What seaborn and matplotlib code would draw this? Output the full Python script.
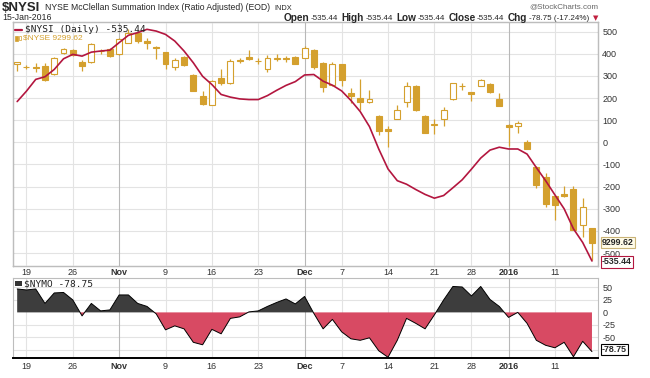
import numpy as np
import pandas as pd
import seaborn as sns
import matplotlib.pyplot as plt
from matplotlib.lines import Line2D
from matplotlib.patches import Rectangle

# trading days shown (Oct 16 2015 .. Jan 15 2016)
holidays = ['2015-11-26', '2015-12-25', '2016-01-01']
dates = pd.bdate_range('2015-10-16', '2016-01-15')
dates = dates[~dates.isin(pd.to_datetime(holidays))]

# $NYSE candles (overlay)
nyse_open = [10397, 10383, 10378, 10386, 10335, 10469, 10483, 10411, 10411, 10481,
             10489, 10458, 10531, 10588, 10541, 10504, 10473, 10383, 10442, 10331,
             10205, 10148, 10315, 10280, 10423, 10444, 10419, 10366, 10432, 10434,
             10442, 10434, 10485, 10407, 10273, 10397, 10218, 10191, 10164, 10082,
             10002, 10062, 10164, 10267, 10082, 10026, 10062, 10181, 10261, 10226,
             10267, 10278, 10185, 10026, 10016, 9917, 9763, 9704, 9584, 9600,
             9630, 9409, 9389]
nyse_high = [10411, 10391, 10407, 10403, 10444, 10500, 10489, 10423, 10526, 10494,
             10496, 10562, 10613, 10596, 10562, 10510, 10475, 10438, 10448, 10335,
             10232, 10300, 10366, 10428, 10438, 10485, 10438, 10452, 10458, 10448,
             10448, 10510, 10489, 10411, 10411, 10399, 10253, 10309, 10242, 10084,
             10020, 10150, 10287, 10269, 10084, 10062, 10136, 10284, 10280, 10228,
             10310, 10284, 10222, 10028, 10047, 9934, 9769, 9728, 9588, 9646,
             9650, 9574, 9391]
nyse_low = [10355, 10366, 10349, 10294, 10329, 10458, 10448, 10355, 10403, 10458,
            10444, 10456, 10526, 10531, 10489, 10432, 10370, 10362, 10386, 10232,
            10150, 10144, 10273, 10275, 10407, 10425, 10397, 10352, 10417, 10411,
            10397, 10434, 10366, 10226, 10267, 10263, 10160, 10119, 10160, 9965,
            9886, 10060, 10136, 10113, 9973, 9971, 10020, 10176, 10242, 10170,
            10265, 10222, 10142, 9892, 9975, 9874, 9636, 9522, 9440, 9582,
            9376, 9337, 9193]
nyse_close = [10411, 10378, 10375, 10300, 10438, 10494, 10452, 10386, 10520, 10477,
              10448, 10555, 10592, 10541, 10526, 10496, 10397, 10423, 10391, 10236,
              10156, 10294, 10280, 10417, 10420, 10428, 10415, 10438, 10436, 10432,
              10401, 10500, 10380, 10257, 10397, 10300, 10201, 10164, 10185, 9985,
              9989, 10119, 10267, 10115, 9975, 10030, 10119, 10280, 10265, 10216,
              10300, 10226, 10143.42, 10012, 10037, 9876, 9656, 9539, 9533, 9584,
              9378, 9522, 9299.62]

# $NYSI summation index
nysi = [184, 231, 284, 296, 329, 377, 397, 389, 407, 412,
        416, 450, 483, 495, 510, 502, 487, 457, 412, 359,
        298, 261, 216, 204, 196, 193, 193, 211, 235, 257,
        274, 304, 306, 276, 258, 232, 189, 139, 71, -30,
        -120, -173, -189, -213, -235, -252, -240, -205, -169, -121,
        -71, -35, -22, -30, -30, -53, -114, -173, -237, -300,
        -390, -452, -535.44]

# $NYMO oscillator
nymo = [47, 45, 47, 18, 39, 40, 25, -7, 18, 3,
        5, 35, 35, 18, 12, -3, -35, -27, -33, -60,
        -65, -34, -43, -12, -9, 1, 3, 12, 20, 27,
        17, 32, -2, -33, -14, -39, -53, -56, -51, -77,
        -90, -56, -12, -22, -33, -5, 25, 52, 51, 33,
        52, 26, 12, -10, 0, -22, -56, -66, -71, -60,
        -89, -58, -78.75]

tick_dates = ['2015-10-19', '2015-10-26', '2015-11-02', '2015-11-09', '2015-11-16',
              '2015-11-23', '2015-12-01', '2015-12-07', '2015-12-14', '2015-12-21',
              '2015-12-28', '2016-01-04', '2016-01-11']
tick_labels = ['19', '26', 'Nov', '9', '16', '23', 'Dec', '7', '14', '21', '28', '2016', '11']
month_labels = ['Nov', 'Dec', '2016']

W, H = 650, 378
GOLD = '#d4a02e'
RED = '#b3163f'
NEG = '#d84a63'
POS = '#3d3d3d'
GRID = '#e3e3e3'
MGRID = '#b8b8b8'

sns.set_style('white')
plt.rcParams['font.family'] = ['Liberation Sans', 'DejaVu Sans']
plt.rcParams['axes.unicode_minus'] = False

df = pd.DataFrame({'date': dates, 'open': nyse_open, 'high': nyse_high,
                   'low': nyse_low, 'close': nyse_close,
                   'nysi': nysi, 'nymo': nymo})
df['x'] = np.arange(len(df)) - 1
tick_x = [df.loc[df['date'] == pd.Timestamp(d), 'x'].iloc[0] for d in tick_dates]


def fx(px):
    return px / W


def fy(py):
    return 1 - py / H


fig = plt.figure(figsize=(W / 100, H / 100), dpi=100)
ax2 = fig.add_axes([fx(13), fy(266), fx(585), 244 / H])   # candles, hidden scale
ax = ax2.twinx()                                          # NYSI scale on the right
axl = fig.add_axes([fx(13), fy(358), fx(585), 80 / H])

xlim = (-1.45, 61.65)


def style_x(a, pad):
    a.set_xlim(*xlim)
    a.set_xticks(tick_x)
    a.set_xticklabels(tick_labels, fontsize=6.5, color='#333333')
    for t in a.get_xticklabels():
        if t.get_text() in month_labels:
            t.set_fontweight('bold')
    a.tick_params(axis='x', length=0, pad=pad)
    for xv, lab in zip(tick_x, tick_labels):
        a.axvline(xv, color=MGRID if lab in month_labels else GRID, lw=0.8, zorder=0)
    for s in a.spines.values():
        s.set_color('#bdbdbd')
        s.set_linewidth(0.8)


# ---- main panel grid + ticks
style_x(ax2, 1.5)
ax2.set_ylim(9156, 10658)
ax2.set_yticks([])
ax.set_ylim(-558, 543)
ax.set_yticks(np.arange(-500, 501, 100))
ax.tick_params(axis='y', length=0, pad=3, labelsize=6.5, labelcolor='#333333')
for v in np.arange(-500, 501, 100):
    ax.axhline(v, color=GRID, lw=0.8, zorder=0)
ax.set_zorder(ax2.get_zorder() - 1)
ax2.patch.set_visible(False)

# candles
for xv, o, h, l, c in zip(df['x'], df['open'], df['high'], df['low'], df['close']):
    up = c >= o
    ax2.vlines(xv, l, h, color=GOLD, lw=0.9, zorder=2)
    bottom, height = min(o, c), max(abs(c - o), 1.5)
    ax2.add_patch(Rectangle((xv - 0.32, bottom), 0.64, height,
                            facecolor='white' if up else GOLD,
                            edgecolor=GOLD, lw=0.8, zorder=3))

# NYSI line drawn above the candles, on the NYSI scale
ax_line = fig.add_axes(ax2.get_position(), sharex=ax2)
ax_line.set_ylim(-558, 543)
ax_line.axis('off')
sns.lineplot(data=df, x='x', y='nysi', ax=ax_line, color=RED, lw=1.2, legend=False)
ax_line.set_xlim(*xlim)
ax_line.set_ylim(-558, 543)

# ---- lower panel: NYMO area
xs = df['x'].to_numpy()
ys = df['nymo'].to_numpy(dtype=float)
axl.fill_between(xs, 0, ys, where=ys >= 0, interpolate=True, color=POS, lw=0, zorder=2)
axl.fill_between(xs, 0, ys, where=ys <= 0, interpolate=True, color=NEG, lw=0, zorder=2)
sns.lineplot(data=df, x='x', y='nymo', ax=axl, color='black', lw=0.7, zorder=3,
             legend=False)
axl.set_ylim(-91.5, 69)
axl.set_yticks([50, 25, 0, -25, -50])
axl.yaxis.tick_right()
axl.tick_params(axis='y', length=0, pad=3, labelsize=6.5, labelcolor='#333333')
for v in [50, 25, -25, -50, -75]:
    axl.axhline(v, color=GRID, lw=0.8, zorder=0)
style_x(axl, 3)
axl.spines['bottom'].set_color('black')
axl.spines['bottom'].set_linewidth(1.4)
for a in (ax, ax2, axl):
    a.set_xlabel('')
    a.set_ylabel('')

# ---- header texts
fig.text(fx(2), fy(8), '$NYSI', fontsize=9.5, fontweight='bold', va='center', ha='left')
fig.text(fx(45), fy(8), 'NYSE McClellan Summation Index (Ratio Adjusted) (EOD)',
         fontsize=6.2, va='center', ha='left')
fig.text(fx(274), fy(8.5), 'INDX', fontsize=5.3, va='center', ha='left')
fig.text(fx(2), fy(17), '15-Jan-2016', fontsize=6.3, va='center', ha='left')
fig.text(fx(598), fy(7), '@StockCharts.com', fontsize=5.8, color='#666666',
         va='center', ha='right')

# quote line, pieces laid out one after another, ending at the right edge
hdr = [('Open', True), ('-535.44', False), ('High', True), ('-535.44', False),
       ('Low', True), ('-535.44', False), ('Close', True), ('-535.44', False),
       ('Chg', True), ('-78.75 (-17.24%)', False)]
renderer = fig.canvas.get_renderer()
pieces = []
for txt, bold in hdr:
    t = fig.text(0, fy(18), txt, fontsize=7.2 if bold else 5.8,
                 fontweight='bold' if bold else 'normal', va='center', ha='left')
    pieces.append((t, t.get_window_extent(renderer).width, 1.5 if bold else 3.5))
arrow = fig.text(0, fy(18), '\u25bc', fontsize=5, color='#c0203f', va='center',
                 ha='left', family='DejaVu Sans')
aw = arrow.get_window_extent(renderer).width
total = sum(w + g for _, w, g in pieces) + aw
xpos = 598 - total
for t, w, g in pieces:
    t.set_x(fx(xpos))
    xpos += w + g
arrow.set_x(fx(xpos))

# ---- legends
fig.add_artist(Line2D([fx(15), fx(22)], [fy(29.5), fy(29.5)], color=RED, lw=1.6))
fig.text(fx(25), fy(29.5), '$NYSI (Daily) -535.44', fontsize=6.8,
         family='DejaVu Sans Mono', color='#222222', va='center', ha='left')
fig.add_artist(Rectangle((fx(15), fy(41)), fx(2.5), 5 / H, facecolor=GOLD,
                         edgecolor=GOLD, lw=0.5, transform=fig.transFigure))
fig.add_artist(Rectangle((fx(18.5), fy(40)), fx(2.5), 4 / H, facecolor='white',
                         edgecolor=GOLD, lw=0.5, transform=fig.transFigure))
fig.text(fx(23), fy(38), '$NYSE 9299.62', fontsize=6, color=GOLD,
         va='center', ha='left')

fig.add_artist(Rectangle((fx(15), fy(286)), fx(7), 5 / H, facecolor='#333333',
                         lw=0, transform=fig.transFigure))
fig.text(fx(24), fy(283.5), '$NYMO -78.75', fontsize=6.8,
         family='DejaVu Sans Mono', color='#222222', va='center', ha='left')

# ---- value tags on the right
tag = dict(fontsize=6.3, fontweight='bold', va='center', ha='left')
fig.text(fx(602), fy(242.5), '9299.62',
         bbox=dict(boxstyle='square,pad=0.12', fc='#fffbe8', ec='#c9b377', lw=0.8), **tag)
fig.text(fx(602), fy(262), '-535.44',
         bbox=dict(boxstyle='square,pad=0.12', fc='white', ec=RED, lw=0.8), **tag)
fig.text(fx(602), fy(349.5), '-78.75',
         bbox=dict(boxstyle='square,pad=0.12', fc='white', ec='black', lw=0.8), **tag)

fig.savefig('out.png', dpi=100)
